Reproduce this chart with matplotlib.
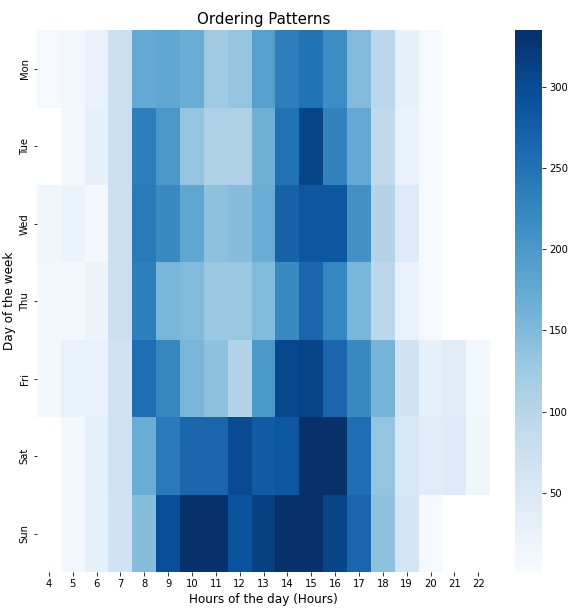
import numpy as np
import pandas as pd
import matplotlib
matplotlib.use("Agg")
import matplotlib.pyplot as plt
import seaborn as sns

hours = list(range(4, 23))
days = ["Mon", "Tue", "Wed", "Thu", "Fri", "Sat", "Sun"]
n = np.nan
mon = [5, 12, 25, 75, 175, 180, 170, 125, 135, 190, 235, 250, 215, 150, 95, 30, 5, n, n]
tue = [n, 10, 30, 75, 235, 200, 135, 110, 110, 165, 250, 310, 230, 175, 90, 25, 5, n, n]
wed = [15, 20, 10, 75, 240, 220, 180, 140, 145, 170, 270, 285, 285, 210, 105, 45, 5, n, n]
thu = [8, 10, 20, 75, 235, 155, 150, 130, 130, 150, 220, 265, 225, 155, 95, 25, 5, n, n]
fri = [10, 25, 25, 70, 255, 225, 155, 140, 105, 200, 305, 310, 265, 220, 160, 65, 30, 40, 10]
sat = [n, 8, 30, 70, 170, 240, 265, 265, 300, 280, 285, 335, 335, 255, 135, 55, 40, 45, 15]
sun = [n, 10, 30, 65, 145, 295, 335, 335, 290, 315, 335, 335, 310, 265, 140, 60, 5, n, n]

df = pd.DataFrame([mon, tue, wed, thu, fri, sat, sun], index=days, columns=hours)

fig = plt.figure(figsize=(8, 614/72), dpi=72)
ax = fig.add_axes([0.064, 0.068, 0.787, 0.883])
cax = fig.add_axes([0.894, 0.068, 0.047, 0.883])
sns.heatmap(df, cmap="Blues", vmin=1, vmax=335, ax=ax, cbar_ax=cax)
ax.set_title("Ordering Patterns", fontsize=15)
ax.set_xlabel("Hours of the day (Hours)", fontsize=12)
ax.set_ylabel("Day of the week", fontsize=12)
ax.tick_params(labelsize=10)
cax.tick_params(labelsize=10)
fig.savefig("out.png", dpi=72)
